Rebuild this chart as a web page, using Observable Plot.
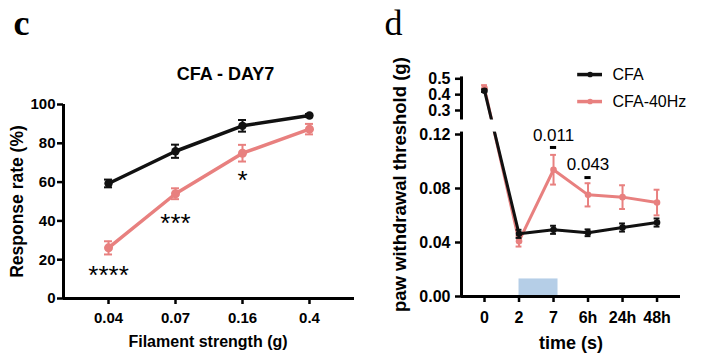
<!DOCTYPE html>
<html><head><meta charset="utf-8">
<script src="https://cdn.jsdelivr.net/npm/d3@7"></script>
<script src="https://cdn.jsdelivr.net/npm/@observablehq/plot@0.6"></script>
<style>
body{margin:0;background:#fff;}
#wrap{position:relative;width:703px;height:357px;overflow:hidden;background:#fff;}
#left{position:absolute;left:0;top:0;}
#right{position:absolute;left:360px;top:0;}
svg{overflow:visible;}
</style></head><body><div id="wrap"><div id="left"></div><div id="right"></div></div>
<script>
// ---------- Panel c data ----------
const filaments = ["0.04", "0.07", "0.16", "0.4"];
const cfaRate = [59.3, 75.9, 89.0, 94.3];
const cfaRateErr = [2.0, 3.4, 3.0, 0.8];
const hzRate = [26.1, 54.0, 74.9, 87.3];
const hzRateErr = [3.4, 2.8, 4.3, 2.7];
const stars = ["****", "***", "*"];
const starY = [11.6, 38.7, 60.6];
const rateTicks = [0, 20, 40, 60, 80, 100];

// ---------- Panel d data ----------
const times = ["0", "2", "7", "6h", "24h", "48h"];
const cfaPWT = [0.425, 0.0464, 0.0494, 0.0472, 0.0511, 0.0548];
const cfaPWTErr = [0.008, 0.003, 0.003, 0.0025, 0.003, 0.003];
const hzPWT = [0.44, 0.041, 0.0939, 0.0753, 0.0736, 0.0696];
const hzPWTErr = [0.02, 0.004, 0.011, 0.0086, 0.0088, 0.0095];
const lowTicks = [0, 0.04, 0.08, 0.12];
const highTicks = [0.3, 0.4, 0.5];
const pValues = ["0.011", "0.043"];
const pIndex = [2, 3];
const pTextY = [0.1193, 0.0978];
const pDashY = [0.1104, 0.0881];
const stimStart = 1, stimEnd = 2.13, stimHeight = 0.013;
const seriesNames = ["CFA", "CFA-40Hz"];

const BLACK = "#111111", PINK = "#e8807f", BLUE = "#b5cee7";
const FONT = "Liberation Sans, Arial, sans-serif";

// broken-axis mapping: lower segment 0..0.12 linear, upper segment compressed
const brk = v => v <= 0.13 ? v : 0.16126 + (v - 0.5) * 0.11741;

function series(data, color, yf, lw, r, cap, ew) {
  return [
    Plot.line(data, {x: "i", y: d => yf(d.v), stroke: color, strokeWidth: lw}),
    Plot.ruleX(data, {x: "i", y1: d => yf(d.v - d.e), y2: d => yf(d.v + d.e), stroke: color, strokeWidth: ew}),
    Plot.ruleY(data, {y: d => yf(d.v + d.e), x1: d => d.i - cap, x2: d => d.i + cap, stroke: color, strokeWidth: ew}),
    Plot.ruleY(data, {y: d => yf(d.v - d.e), x1: d => d.i - cap, x2: d => d.i + cap, stroke: color, strokeWidth: ew}),
    Plot.dot(data, {x: "i", y: d => yf(d.v), fill: color, r})
  ];
}

// ---------- Panel c ----------
const cfaL = filaments.map((f, i) => ({i, v: cfaRate[i], e: cfaRateErr[i]}));
const hzL = filaments.map((f, i) => ({i, v: hzRate[i], e: hzRateErr[i]}));
const starData = stars.map((s, i) => ({i, s, y: starY[i]}));
const id = v => v;
const xL0 = -0.672, xL1 = 3.672;

const left = Plot.plot({
  width: 360, height: 357,
  marginLeft: 63, marginRight: 6, marginTop: 104, marginBottom: 59,
  x: {domain: [xL0, xL1]},
  y: {domain: [0, 100]},
  style: {fontFamily: FONT, fontWeight: "bold", background: "transparent", color: "#000"},
  marks: [
    Plot.axisY({ticks: rateTicks, tickSize: 6, strokeWidth: 2.5, tickPadding: 2, fontSize: 15, fontWeight: "bold", label: null}),
    Plot.axisX({ticks: [0, 1, 2, 3], tickFormat: i => filaments[i], tickSize: 6, strokeWidth: 2.5, tickPadding: 8, fontSize: 15, fontWeight: "bold", label: null}),
    Plot.ruleX([xL0], {y1: 0, y2: 100, strokeWidth: 3}),
    Plot.ruleY([0], {strokeWidth: 3}),
    ...series(hzL, PINK, id, 3.5, 4.5, 0.06, 2),
    ...series(cfaL, BLACK, id, 3.5, 4.2, 0.06, 2),
    Plot.text(starData, {x: "i", y: "y", text: "s", fontSize: 26, fontWeight: "normal", lineAnchor: "middle"}),
    Plot.text(["CFA - DAY7"], {frameAnchor: "top", dx: 16.5, dy: -30.5, textAnchor: "middle", lineAnchor: "middle", fontSize: 18, fontWeight: "bold"}),
    Plot.text(["Response rate (%)"], {frameAnchor: "left", dx: -46, dy: 0, rotate: -90, textAnchor: "middle", lineAnchor: "middle", fontSize: 17.5, fontWeight: "bold"}),
    Plot.text(["Filament strength (g)"], {frameAnchor: "bottom", dx: -1, dy: 43, textAnchor: "middle", lineAnchor: "middle", fontSize: 16, fontWeight: "bold"}),
    Plot.text(["c"], {frameAnchor: "top-left", dx: -50, dy: -70, textAnchor: "start", lineAnchor: "bottom", fontSize: 36, fontWeight: "bold", fontFamily: "Liberation Serif, Times New Roman, serif"})
  ]
});
document.getElementById("left").append(left);

// ---------- Panel d ----------
const cfaR = times.map((t, i) => ({i, v: cfaPWT[i], e: cfaPWTErr[i]}));
const hzR = times.map((t, i) => ({i, v: hzPWT[i], e: hzPWTErr[i]}));
const pData = pValues.map((p, k) => ({p, i: pIndex[k], ty: pTextY[k], dy: pDashY[k]}));
const legend = [
  {name: seriesNames[0], color: BLACK, y: 0.1644},
  {name: seriesNames[1], color: PINK, y: 0.1444}
];
const xR0 = -0.667, xR1 = 5.68;
const highLabel = new Map(highTicks.map(t => [brk(t), t.toFixed(1)]));

const right = Plot.plot({
  width: 343, height: 357,
  marginLeft: 101, marginRight: 23, marginTop: 78.3, marginBottom: 61,
  x: {domain: [xR0, xR1]},
  y: {domain: [0, brk(0.5)]},
  style: {fontFamily: FONT, fontWeight: "bold", background: "transparent", color: "#000"},
  marks: [
    Plot.rect([{x1: stimStart, x2: stimEnd}], {x1: "x1", x2: "x2", y1: 0, y2: stimHeight, fill: BLUE}),
    Plot.axisY({ticks: lowTicks, tickFormat: d3.format(".2f"), tickSize: 6, strokeWidth: 2.5, tickPadding: 5, fontSize: 16, fontWeight: "bold", label: null}),
    Plot.axisY({ticks: highTicks.map(brk), tickFormat: d => highLabel.get(d), tickSize: 6, strokeWidth: 2.5, tickPadding: 5, fontSize: 16, fontWeight: "bold", label: null}),
    Plot.axisX({ticks: [0, 1, 2, 3, 4, 5], tickFormat: i => times[i], tickSize: 6, strokeWidth: 2.5, tickPadding: 9, fontSize: 16, fontWeight: "bold", label: null}),
    Plot.ruleX([xR0], {y1: 0, y2: 0.1218, strokeWidth: 3}),
    Plot.ruleX([xR0], {y1: brk(0.24), y2: brk(0.512), strokeWidth: 3}),
    Plot.ruleY([0], {strokeWidth: 3}),
    ...series(hzR, PINK, brk, 3, 3.3, 0.085, 2),
    ...series(cfaR, BLACK, brk, 3, 3.3, 0.085, 2),
    Plot.rect([{}], {x1: -0.45, x2: 0.9, y1: 0.1218, y2: brk(0.24), fill: "white"}),
    Plot.text(pData, {x: "i", y: "ty", text: "p", fontSize: 17, fontWeight: "normal", lineAnchor: "middle"}),
    Plot.ruleY(pData, {y: "dy", x1: d => d.i - 0.09, x2: d => d.i + 0.09, strokeWidth: 3}),
    Plot.ruleY(legend, {y: "y", x1: 2.70, x2: 3.42, stroke: "color", strokeWidth: 3.5}),
    Plot.dot(legend, {y: "y", x: 3.06, fill: "color", r: 2.8}),
    Plot.text(legend, {y: "y", x: 3.71, text: "name", textAnchor: "start", lineAnchor: "middle", fontSize: 16, fontWeight: "normal"}),
    Plot.text(["paw withdrawal threshold (g)"], {frameAnchor: "left", dx: -61, dy: -3, rotate: -90, textAnchor: "middle", lineAnchor: "middle", fontSize: 18.5, fontWeight: "bold"}),
    Plot.text(["time (s)"], {frameAnchor: "bottom", dx: 0, dy: 47, textAnchor: "middle", lineAnchor: "middle", fontSize: 18, fontWeight: "bold"}),
    Plot.text(["d"], {frameAnchor: "top-left", dx: -77, dy: -44, textAnchor: "start", lineAnchor: "bottom", fontSize: 36, fontWeight: "normal", fontFamily: "Liberation Serif, Times New Roman, serif"})
  ]
});
document.getElementById("right").append(right);
</script></body></html>
